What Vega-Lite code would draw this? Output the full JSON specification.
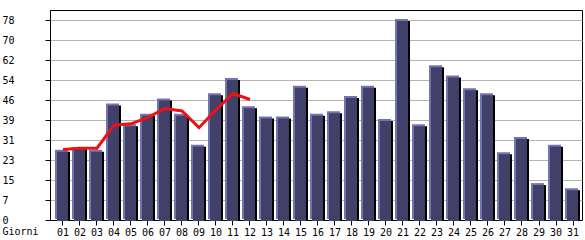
{
  "$schema": "https://vega.github.io/schema/vega-lite/v6.json",
  "width": 532,
  "height": 210,
  "autosize": {"type": "none"},
  "padding": {"left": 50, "top": 10, "right": 3, "bottom": 20},
  "background": "white",
  "config": {
    "view": {"stroke": "black", "strokeWidth": 1},
    "font": "DejaVu Sans Mono",
    "axis": {
      "labelFont": "DejaVu Sans Mono",
      "labelFontSize": 10,
      "labelColor": "black",
      "labelFlush": false,
      "titleFont": "DejaVu Sans Mono",
      "titleFontSize": 10,
      "titleFontWeight": "normal",
      "titleColor": "black",
      "domainColor": "black",
      "tickColor": "black",
      "tickSize": 5
    }
  },
  "data": {
    "values": [
      {"day": "01", "value": 27, "avg": 27.5},
      {"day": "02", "value": 28, "avg": 28},
      {"day": "03", "value": 27, "avg": 28},
      {"day": "04", "value": 45, "avg": 37},
      {"day": "05", "value": 37, "avg": 37.5},
      {"day": "06", "value": 41, "avg": 40},
      {"day": "07", "value": 47, "avg": 43.5},
      {"day": "08", "value": 41, "avg": 42.5},
      {"day": "09", "value": 29, "avg": 36},
      {"day": "10", "value": 49, "avg": 43},
      {"day": "11", "value": 55, "avg": 49.3},
      {"day": "12", "value": 44, "avg": 47},
      {"day": "13", "value": 40, "avg": null},
      {"day": "14", "value": 40, "avg": null},
      {"day": "15", "value": 52, "avg": null},
      {"day": "16", "value": 41, "avg": null},
      {"day": "17", "value": 42, "avg": null},
      {"day": "18", "value": 48, "avg": null},
      {"day": "19", "value": 52, "avg": null},
      {"day": "20", "value": 39, "avg": null},
      {"day": "21", "value": 78, "avg": null},
      {"day": "22", "value": 37, "avg": null},
      {"day": "23", "value": 60, "avg": null},
      {"day": "24", "value": 56, "avg": null},
      {"day": "25", "value": 51, "avg": null},
      {"day": "26", "value": 49, "avg": null},
      {"day": "27", "value": 26, "avg": null},
      {"day": "28", "value": 32, "avg": null},
      {"day": "29", "value": 14, "avg": null},
      {"day": "30", "value": 29, "avg": null},
      {"day": "31", "value": 12, "avg": null}
    ]
  },
  "encoding": {
    "x": {
      "field": "day",
      "type": "ordinal",
      "scale": {"paddingInner": 0, "paddingOuter": 0.147, "align": 0.9},
      "axis": {
        "labelAngle": 0,
        "labelPadding": 2,
        "labelOverlap": false,
        "bandPosition": 0.5,
        "grid": false,
        "title": "Giorni",
        "titleX": -48,
        "titleY": 14.5,
        "titleAlign": "left",
        "titleBaseline": "alphabetic",
        "titleAnchor": "start"
      }
    }
  },
  "layer": [
    {
      "mark": {"type": "bar", "color": "black", "width": 13, "xOffset": 0.5, "yOffset": 1},
      "encoding": {
        "y": {
          "field": "value",
          "type": "quantitative",
          "scale": {"domain": [0, 81.9], "nice": false, "zero": true},
          "axis": {
            "values": [0, 7.8, 15.6, 23.4, 31.2, 39, 46.8, 54.6, 62.4, 70.2, 78],
            "tickCount": 20,
            "labelExpr": "floor(datum.value)",
            "labelAlign": "left",
            "labelBaseline": "middle",
            "labelPadding": 43,
            "labelOverlap": false,
            "labelBound": false,
            "grid": true,
            "gridColor": "#b4b4b4",
            "gridOpacity": 1,
            "title": null
          }
        }
      }
    },
    {
      "mark": {"type": "bar", "color": "#7474b4", "width": 13, "xOffset": -1.5, "yOffset": -1},
      "encoding": {"y": {"field": "value", "type": "quantitative"}}
    },
    {
      "mark": {"type": "bar", "color": "#404068", "width": 11, "xOffset": -0.5, "yOffset": 1},
      "encoding": {"y": {"field": "value", "type": "quantitative"}}
    },
    {
      "mark": {"type": "line", "color": "#f01010", "strokeWidth": 3},
      "encoding": {"y": {"field": "avg", "type": "quantitative"}}
    }
  ]
}
